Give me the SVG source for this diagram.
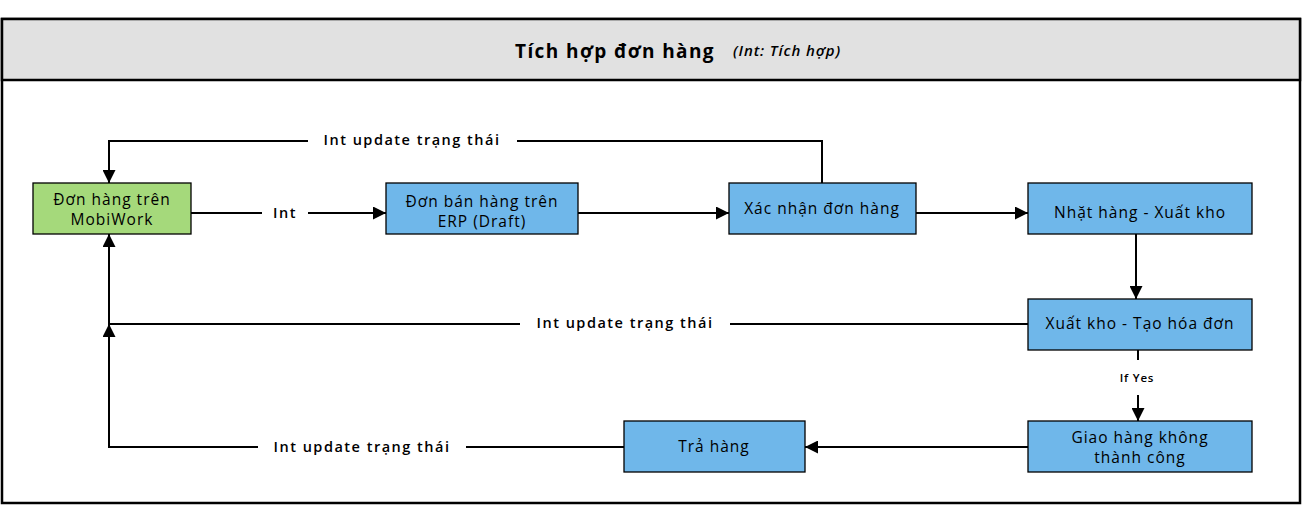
<svg xmlns="http://www.w3.org/2000/svg" width="1309" height="524" viewBox="0 0 1309 524">
<defs>
<style>
.node rect{stroke:#000;stroke-width:1.3}
.blue{fill:#6fb7ea}
.green{fill:#a5d97b}
.nt{font-family:"Open Sans","Liberation Sans",sans-serif;font-size:15.5px;fill:#000;text-anchor:middle;letter-spacing:1px}
.lbl{font-family:"Open Sans","Liberation Sans",sans-serif;font-size:14.5px;font-weight:600;fill:#000;text-anchor:middle;letter-spacing:1.5px}
.edge{fill:none;stroke:#000;stroke-width:2}
</style>
<marker id="arrow" viewBox="0 0 13 13" refX="13" refY="6.5" markerWidth="13" markerHeight="13" markerUnits="userSpaceOnUse" orient="auto">
<path d="M0,0 L13,6.5 L0,13 z" fill="#000"/>
</marker>
</defs>
<rect x="0" y="0" width="1309" height="524" fill="#fff"/>
<g id="container">
<rect x="2" y="19" width="1298" height="484" fill="#fff" stroke="#000" stroke-width="2.5"/>
<rect x="2" y="19" width="1298" height="61" fill="#e1e1e1" stroke="#000" stroke-width="2.5"/>
<text x="615" y="58" font-family="'Open Sans','Liberation Sans',sans-serif" font-size="19" font-weight="700" text-anchor="middle" letter-spacing="1.4">Tích hợp đơn hàng</text>
<text x="787" y="56" font-family="'Open Sans','Liberation Sans',sans-serif" font-size="15" font-weight="600" font-style="italic" text-anchor="middle" letter-spacing="0.9">(Int: Tích hợp)</text>
</g>
<g id="connectors">
<path class="edge" d="M191,213 H262"/>
<path class="edge" d="M308,213 H386" marker-end="url(#arrow)"/>
<path class="edge" d="M578,213 H729" marker-end="url(#arrow)"/>
<path class="edge" d="M916,213 H1028" marker-end="url(#arrow)"/>
<path class="edge" d="M822,183 V141 H517 M308,141 H109 V170"/>
<path class="edge" d="M109,160 V183" marker-end="url(#arrow)"/>
<path class="edge" d="M1136,234 V299" marker-end="url(#arrow)"/>
<path class="edge" d="M1028,324 H730 M520,324 H109 V250"/>
<path class="edge" d="M109,260 V234" marker-end="url(#arrow)"/>
<path class="edge" d="M1138,350 V360"/>
<path class="edge" d="M1138,395 V421" marker-end="url(#arrow)"/>
<path class="edge" d="M1028,447 H805" marker-end="url(#arrow)"/>
<path class="edge" d="M624,447 H466 M258,447 H109 V340"/>
<path class="edge" d="M109,360 V324" marker-end="url(#arrow)"/>
<text class="lbl" x="285" y="218">Int</text>
<text class="lbl" x="412" y="145">Int update trạng thái</text>
<text class="lbl" x="625" y="328">Int update trạng thái</text>
<text class="lbl" x="362" y="452">Int update trạng thái</text>
<text x="1137" y="382" font-family="'Open Sans','Liberation Sans',sans-serif" font-size="11.5" font-weight="600" text-anchor="middle" letter-spacing="0.8">If Yes</text>
</g>
<g id="n1" class="node"><rect class="green" x="33" y="183" width="158" height="51"/><text class="nt" x="112" y="205">Đơn hàng trên</text><text class="nt" x="112" y="225">MobiWork</text></g>
<g id="n2" class="node"><rect class="blue" x="386" y="183" width="192" height="51"/><text class="nt" x="482" y="207">Đơn bán hàng trên</text><text class="nt" x="482" y="227">ERP (Draft)</text></g>
<g id="n3" class="node"><rect class="blue" x="729" y="183" width="187" height="51"/><text class="nt" x="822" y="214">Xác nhận đơn hàng</text></g>
<g id="n4" class="node"><rect class="blue" x="1028" y="183" width="224" height="51"/><text class="nt" x="1140" y="218">Nhặt hàng - Xuất kho</text></g>
<g id="n5" class="node"><rect class="blue" x="1028" y="299" width="224" height="51"/><text class="nt" x="1140" y="329">Xuất kho - Tạo hóa đơn</text></g>
<g id="n6" class="node"><rect class="blue" x="1028" y="421" width="224" height="51"/><text class="nt" x="1140" y="443">Giao hàng không</text><text class="nt" x="1140" y="463">thành công</text></g>
<g id="n7" class="node"><rect class="blue" x="624" y="421" width="181" height="51"/><text class="nt" x="714" y="452">Trả hàng</text></g>
</svg>
